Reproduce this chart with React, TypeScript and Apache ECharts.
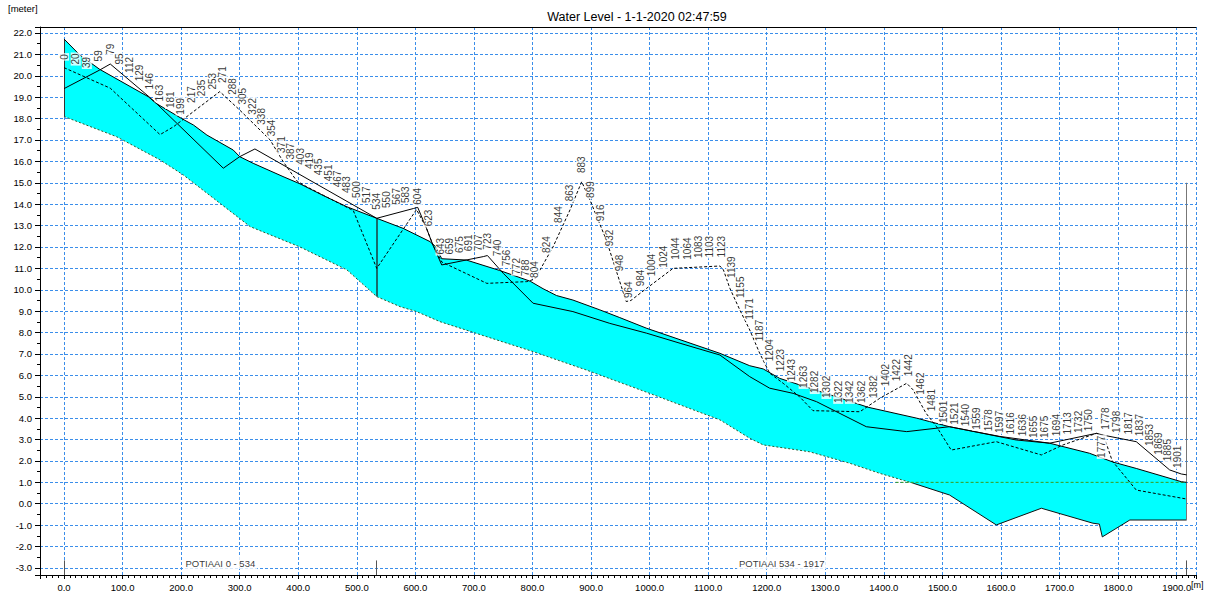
import React, { useEffect, useRef } from "react";
import * as echarts from "echarts";

// Water level (top of the filled area) [chainage m, level m]
const WATER_LEVEL: [number, number][] = [
  [0, 21.72], [27, 20.97], [61, 20.3], [144, 19.02], [158, 18.7], [201, 18.0], [221, 17.7],
  [244, 17.23], [289, 16.53], [300, 16.22], [323, 15.91], [374, 15.29], [403, 14.95], [443, 14.4],
  [483, 13.88], [534, 13.34], [579, 12.87], [625, 12.25], [635, 12.0], [645, 11.45], [687, 11.39],
  [744, 10.9], [796, 10.4], [818, 10.05], [841, 9.73], [869, 9.52], [915, 9.06], [949, 8.7],
  [995, 8.2], [1120, 7.03], [1171, 6.45], [1194, 6.3], [1222, 5.86], [1373, 4.51], [1456, 4.0],
  [1478, 3.84], [1512, 3.6], [1626, 2.98], [1683, 2.83], [1751, 2.36], [1791, 1.95], [1831, 1.65],
  [1908, 1.03], [1917, 1.0],
];

// Bed level (bottom of the filled area)
const BED_LEVEL: [number, number][] = [
  [0, 18.1], [90, 17.15], [164, 16.07], [204, 15.36], [318, 12.95], [403, 12.0], [483, 10.93],
  [534, 9.68], [574, 9.21], [602, 8.98], [642, 8.51], [801, 7.11], [892, 6.25], [1000, 5.16],
  [1120, 3.92], [1171, 3.06], [1194, 2.75], [1273, 2.43], [1342, 1.89], [1393, 1.42], [1450, 0.96],
  [1512, 0.41], [1592, -0.99], [1669, -0.21], [1757, -0.91], [1768, -0.95], [1773, -1.55],
  [1820, -0.76], [1917, -0.76],
];

// Left bank (solid)
const LEFT_BANK: [number, number][] = [
  [0, 19.4], [61, 20.27], [79, 20.55], [146, 19.0], [158, 18.7], [272, 15.68], [300, 16.22],
  [326, 16.58], [534, 13.34], [597, 13.8], [604, 13.85], [619, 12.87], [630, 12.09], [645, 11.16],
  [716, 11.55], [723, 11.6], [750, 10.77], [801, 9.37], [869, 8.98], [932, 8.43], [995, 7.97],
  [1052, 7.5], [1120, 6.95], [1171, 5.94], [1205, 5.4], [1245, 5.16], [1285, 4.77], [1370, 3.6],
  [1439, 3.37], [1512, 3.6], [1597, 3.15], [1683, 2.83], [1763, 3.29], [1774, 3.21], [1831, 2.9],
  [1888, 1.58], [1908, 1.39], [1917, 1.35],
];

// Right bank (dashed)
const RIGHT_BANK: [number, number][] = [
  [0, 20.38], [79, 19.42], [164, 17.25], [187, 17.62], [266, 19.26], [300, 18.4], [352, 17.0],
  [374, 16.0], [397, 15.1], [414, 14.82], [494, 13.7], [534, 11.0], [576, 12.7], [602, 13.75],
  [619, 12.87], [630, 12.09], [645, 11.3], [722, 10.3], [790, 10.38], [804, 10.5], [835, 12.0],
  [864, 13.73], [884, 15.05], [898, 14.2], [926, 12.33], [960, 9.45], [968, 9.5], [995, 10.07],
  [1040, 11.0], [1120, 11.11], [1126, 10.93], [1137, 10.07], [1154, 9.06], [1171, 8.12],
  [1188, 7.03], [1205, 6.1], [1228, 5.63], [1256, 5.0], [1279, 4.35], [1359, 4.3], [1393, 4.93],
  [1439, 5.63], [1450, 5.32], [1472, 4.23], [1490, 3.6], [1515, 2.51], [1592, 2.9], [1669, 2.28],
  [1706, 2.75], [1763, 3.29], [1775, 3.2], [1790, 2.0], [1831, 0.64], [1917, 0.22],
];

// Boundary level line (green dashed)
const BOUNDARY_LEVEL: [number, number][] = [[1420, 1.0], [1917, 1.0]];

// Cross-section labels: text, chainage, level of label foot
const SECTION_TEXT: string[] = [
  "0", "20", "39", "59", "79", "95", "112", "129", "146", "163", "181", "199", "217", "235", "253",
  "271", "288", "305", "322", "338", "354", "371", "387", "403", "419", "435", "451", "467", "483",
  "500", "517", "534", "550", "567", "583", "604", "623", "643", "659", "675", "691", "707", "723",
  "740", "756", "772", "788", "804", "824", "844", "863", "883", "899", "916", "932", "948", "964",
  "984", "1004", "1024", "1044", "1064", "1083", "1103", "1123", "1139", "1155", "1171", "1187",
  "1204", "1223", "1243", "1263", "1282", "1302", "1322", "1342", "1362", "1382", "1402", "1422",
  "1442", "1462", "1481", "1501", "1521", "1540", "1559", "1578", "1597", "1616", "1636", "1655",
  "1675", "1694", "1713", "1732", "1750", "1778", "1798", "1817", "1837", "1853", "1869", "1885",
  "1901", "1777",
];
const SECTION_X: number[] = [
  0, 20, 39, 59, 79, 95, 112, 129, 146, 163, 181, 199, 217, 235, 253,
  271, 288, 305, 322, 338, 354, 371, 387, 403, 419, 435, 451, 467, 483,
  500, 517, 534, 550, 567, 583, 604, 623, 643, 659, 675, 691, 707, 723,
  740, 756, 772, 788, 804, 824, 844, 863, 883, 899, 916, 932, 948, 964,
  984, 1004, 1024, 1044, 1064, 1083, 1103, 1123, 1139, 1155, 1171, 1187,
  1204, 1223, 1243, 1263, 1282, 1302, 1322, 1342, 1362, 1382, 1402, 1422,
  1442, 1462, 1481, 1501, 1521, 1540, 1559, 1578, 1597, 1616, 1636, 1655,
  1675, 1694, 1713, 1732, 1750, 1778, 1798, 1817, 1837, 1853, 1869, 1885,
  1901, 1772,
];
const SECTION_Y: number[] = [
  20.66, 20.43, 20.27, 20.58, 20.89, 20.43, 20.04, 19.65, 19.26, 18.71, 18.4, 18.09, 18.64, 18.95, 19.26,
  19.57, 19.02, 18.56, 18.09, 17.62, 17.08, 16.3, 15.99, 15.75, 15.55, 15.26, 14.98, 14.7, 14.43,
  14.2, 13.96, 13.65, 13.73, 13.88, 13.96, 13.88, 12.87, 11.55, 11.55, 11.63, 11.71, 11.71, 11.78,
  11.47, 11.0, 10.61, 10.54, 10.46, 11.63, 13.03, 14.04, 15.36, 14.2, 13.11, 11.94, 10.77, 9.52,
  10.07, 10.54, 10.93, 11.31, 11.31, 11.39, 11.42, 11.42, 10.46, 9.52, 8.51, 7.5,
  6.56, 6.1, 5.63, 5.32, 5.08, 4.85, 4.62, 4.62, 4.62, 4.85, 5.4, 5.63,
  5.86, 5.0, 4.23, 3.68, 3.6, 3.53, 3.37, 3.29, 3.21, 3.14, 3.06, 2.98,
  2.98, 3.06, 3.14, 3.21, 3.29, 3.37, 3.21, 3.14, 3.06, 2.6, 2.2, 1.89,
  1.58, 2.05,
];

const BRANCH_NAMES: string[] = ["POTIAAI 0 - 534", "POTIAAI 534 - 1917"];
const BRANCH_LIMITS: [number, number][] = [[0, 534], [534, 1917]];
const BRANCH_LABEL_LEVEL = -2.77;

const TITLE = "Water Level - 1-1-2020 02:47:59";
const FONT = '"Liberation Sans", Arial, sans-serif';
const GRID_BLUE = "#3b8eea";

export default function App() {
  const ref = useRef<HTMLDivElement>(null);
  useEffect(() => {
    if (!ref.current) return;
    const chart = echarts.init(ref.current, null, { renderer: "svg" });
    const bedLeft = BED_LEVEL.filter((p) => p[0] <= 1450);
    const bedRight = BED_LEVEL.filter((p) => p[0] >= 1450);
    const branchEnds = [0, 534, 1917];
    const option: any = {
      animation: false,
      textStyle: { fontFamily: FONT },
      grid: { left: 40, top: 27, right: 10, bottom: 28, containLabel: false, outerBoundsMode: "none" },
      graphic: [
        {
          type: "text", x: 637, y: 17, silent: true,
          style: { text: TITLE, textAlign: "center", textVerticalAlign: "middle", align: "center", verticalAlign: "middle", font: `12.5px ${FONT}`, fill: "#000" },
        },
        {
          type: "text", x: 8, y: 8, silent: true,
          style: { text: "[meter]", textAlign: "left", textVerticalAlign: "middle", align: "left", verticalAlign: "middle", font: `9.5px ${FONT}`, fill: "#000" },
        },
        {
          type: "text", x: 1191, y: 585, silent: true,
          style: { text: "[m]", textAlign: "left", textVerticalAlign: "middle", align: "left", verticalAlign: "middle", font: `9px ${FONT}`, fill: "#000" },
        },
      ],
      xAxis: [
        {
          type: "value", min: -41, max: 1933, minInterval: 100, maxInterval: 100,
          axisLine: { show: true, onZero: false, lineStyle: { color: "#000", width: 1 } },
          axisTick: { show: true, length: 4, lineStyle: { color: "#000" } },
          minorTick: { show: true, splitNumber: 10, length: 3, lineStyle: { color: "#000" } },
          axisLabel: {
            formatter: (v: number) => v.toFixed(1), showMinLabel: false, showMaxLabel: false,
            margin: 7, fontSize: 9.5, color: "#000", fontFamily: FONT,
          },
          splitLine: { show: true, lineStyle: { color: GRID_BLUE, type: [3, 2], width: 1 } },
        },
        {
          type: "value", position: "top", min: -41, max: 1933,
          axisLine: { show: true, onZero: false, lineStyle: { color: "#000", width: 1 } },
          axisTick: { show: false }, axisLabel: { show: false }, splitLine: { show: false },
        },
      ],
      yAxis: {
        type: "value", min: -3.33, max: 22.28, minInterval: 1, maxInterval: 1,
        axisLine: { show: true, onZero: false, lineStyle: { color: "#000", width: 1 } },
        axisTick: { show: true, length: 5, lineStyle: { color: "#000" } },
        minorTick: { show: true, splitNumber: 2, length: 3, lineStyle: { color: "#000" } },
        axisLabel: {
          formatter: (v: number) => v.toFixed(1), showMinLabel: false, showMaxLabel: false,
          margin: 8, fontSize: 9.5, color: "#000", fontFamily: FONT,
        },
        splitLine: { show: true, lineStyle: { color: GRID_BLUE, type: [3, 2], width: 1 } },
      },
      series: [
        {
          type: "custom", name: "water", z: 1, silent: true,
          data: [[0, 0]],
          renderItem: (_params: any, api: any) => {
            const top = WATER_LEVEL.map((p) => api.coord(p));
            const bottom = BED_LEVEL.slice().reverse().map((p) => api.coord(p));
            return {
              type: "polygon",
              shape: { points: top.concat(bottom) },
              style: { fill: "#00ffff", stroke: "none" },
            };
          },
        },
        {
          type: "line", name: "bed", data: bedLeft, symbol: "none", z: 3, silent: true,
          lineStyle: { color: "#2f5a2f", width: 1, type: [2, 2] },
        },
        {
          type: "line", name: "bed2", data: bedRight, symbol: "none", z: 3, silent: true,
          lineStyle: { color: "#111", width: 1 },
        },
        {
          type: "line", name: "boundary", data: BOUNDARY_LEVEL, symbol: "none", z: 3, silent: true,
          lineStyle: { color: "#3c9a1a", width: 1, type: [3, 2] },
        },
        {
          type: "line", name: "wl", data: WATER_LEVEL, symbol: "none", z: 4, silent: true,
          lineStyle: { color: "#000", width: 1 },
        },
        {
          type: "line", name: "lb", data: LEFT_BANK, symbol: "none", z: 4, silent: true,
          lineStyle: { color: "#000", width: 1 },
        },
        {
          type: "line", name: "rb", data: RIGHT_BANK, symbol: "none", z: 4, silent: true,
          lineStyle: { color: "#000", width: 1, type: [3, 2] },
          markLine: {
            silent: true, symbol: ["none", "none"], label: { show: false }, z: 4,
            data: [
              [{ coord: [0, BED_LEVEL[0][1]], lineStyle: { color: "#333", width: 1, type: "solid" } }, { coord: [0, WATER_LEVEL[0][1]] }],
              [{ coord: [534, 9.68], lineStyle: { color: "#1d3d3d", width: 1.5, type: "solid" } }, { coord: [534, 13.34] }],
              [{ coord: [1917, -0.76], lineStyle: { color: "#777", width: 1, type: "solid" } }, { coord: [1917, 15.0] }],
              ...branchEnds.map((c) => [
                { coord: [c, -2.65], lineStyle: { color: "#555", width: 1, type: "solid" } },
                { coord: [c, -3.33] },
              ]),
            ],
          },
        },
        {
          type: "scatter", name: "sections", symbolSize: 0, z: 6, silent: true,
          data: SECTION_X.map((x, i) => ({ value: [x, SECTION_Y[i]], name: SECTION_TEXT[i] })),
          label: {
            show: true, formatter: "{b}", position: "top", distance: 1, rotate: 90,
            align: "left", verticalAlign: "middle", fontSize: 10, color: "#000",
            fontFamily: FONT, backgroundColor: "#fff", padding: [0, 1, 0, 1],
          },
        },
        {
          type: "scatter", name: "branches", symbolSize: 0, z: 6, silent: true,
          data: BRANCH_NAMES.map((n, i) => ({
            value: [(BRANCH_LIMITS[i][0] + BRANCH_LIMITS[i][1]) / 2, BRANCH_LABEL_LEVEL], name: n,
          })),
          label: {
            show: true, formatter: "{b}", position: "inside", align: "center", verticalAlign: "middle",
            fontSize: 9.5, color: "#000", fontFamily: FONT, backgroundColor: "#fff", padding: [1, 2],
          },
        },
      ],
    };
    chart.setOption(option);
    return () => chart.dispose();
  }, []);
  return (
    <div
      ref={ref}
      style={{ position: "fixed", left: 0, top: 0, width: 1206, height: 603, background: "#fff" }}
    />
  );
}
